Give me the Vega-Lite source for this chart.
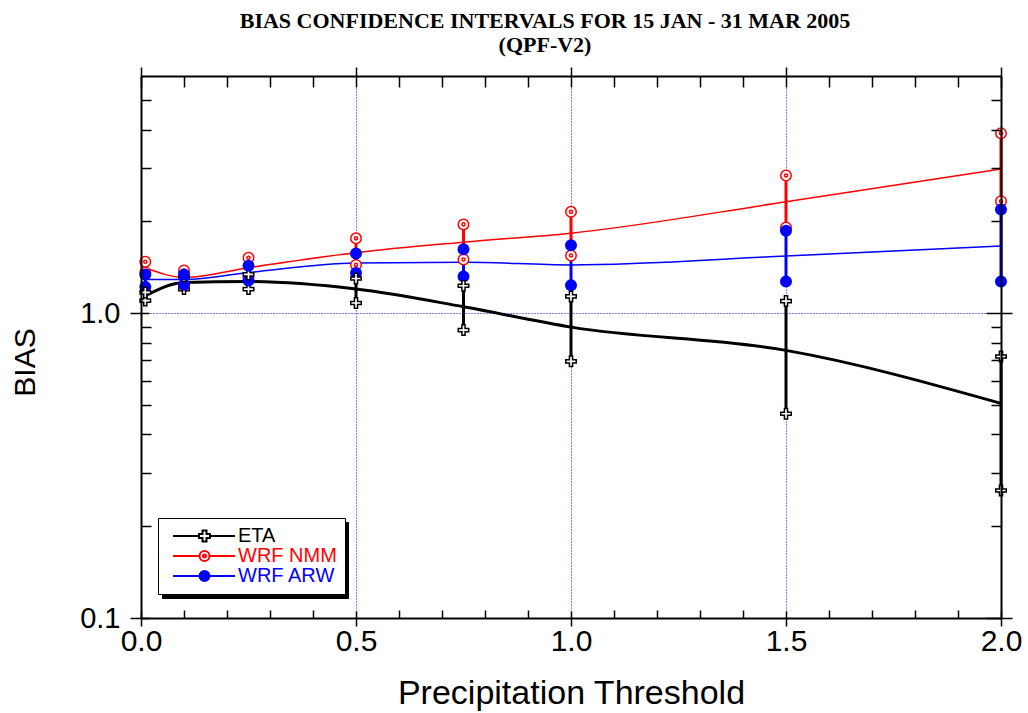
{
  "$schema": "https://vega.github.io/schema/vega-lite/v6.json",
  "width": 860,
  "height": 542,
  "autosize": {"type": "none"},
  "padding": {"left": 141, "top": 76, "right": 27, "bottom": 95},
  "background": "#ffffff",
  "title": {
    "text": ["BIAS CONFIDENCE INTERVALS FOR 15 JAN - 31 MAR 2005", "(QPF-V2)"],
    "font": "Liberation Serif",
    "fontSize": 22,
    "fontWeight": "bold",
    "color": "#000000",
    "anchor": "middle",
    "frame": "group",
    "dx": -26,
    "offset": 9,
    "lineHeight": 24
  },
  "data": {
    "values": [
      {"model": "ETA", "threshold": 0.01, "bias": 1.14, "lower": 1.10, "upper": 1.17},
      {"model": "ETA", "threshold": 0.1, "bias": 1.26, "lower": 1.20, "upper": 1.32},
      {"model": "ETA", "threshold": 0.25, "bias": 1.27, "lower": 1.20, "upper": 1.34},
      {"model": "ETA", "threshold": 0.5, "bias": 1.20, "lower": 1.08, "upper": 1.30},
      {"model": "ETA", "threshold": 0.75, "bias": 1.05, "lower": 0.88, "upper": 1.23},
      {"model": "ETA", "threshold": 1.0, "bias": 0.90, "lower": 0.695, "upper": 1.135},
      {"model": "ETA", "threshold": 1.5, "bias": 0.755, "lower": 0.468, "upper": 1.096},
      {"model": "ETA", "threshold": 2.0, "bias": 0.506, "lower": 0.262, "upper": 0.721},
      {"model": "WRF NMM", "threshold": 0.01, "bias": 1.41, "lower": 1.36, "upper": 1.475},
      {"model": "WRF NMM", "threshold": 0.1, "bias": 1.31, "lower": 1.24, "upper": 1.38},
      {"model": "WRF NMM", "threshold": 0.25, "bias": 1.41, "lower": 1.31, "upper": 1.52},
      {"model": "WRF NMM", "threshold": 0.5, "bias": 1.58, "lower": 1.44, "upper": 1.76},
      {"model": "WRF NMM", "threshold": 0.75, "bias": 1.71, "lower": 1.50, "upper": 1.955},
      {"model": "WRF NMM", "threshold": 1.0, "bias": 1.83, "lower": 1.546, "upper": 2.15},
      {"model": "WRF NMM", "threshold": 1.5, "bias": 2.32, "lower": 1.91, "upper": 2.83},
      {"model": "WRF NMM", "threshold": 2.0, "bias": 2.97, "lower": 2.33, "upper": 3.89},
      {"model": "WRF ARW", "threshold": 0.01, "bias": 1.29, "lower": 1.22, "upper": 1.34},
      {"model": "WRF ARW", "threshold": 0.1, "bias": 1.29, "lower": 1.24, "upper": 1.34},
      {"model": "WRF ARW", "threshold": 0.25, "bias": 1.36, "lower": 1.28, "upper": 1.43},
      {"model": "WRF ARW", "threshold": 0.5, "bias": 1.46, "lower": 1.355, "upper": 1.57},
      {"model": "WRF ARW", "threshold": 0.75, "bias": 1.47, "lower": 1.32, "upper": 1.62},
      {"model": "WRF ARW", "threshold": 1.0, "bias": 1.44, "lower": 1.235, "upper": 1.67},
      {"model": "WRF ARW", "threshold": 1.5, "bias": 1.54, "lower": 1.27, "upper": 1.865},
      {"model": "WRF ARW", "threshold": 2.0, "bias": 1.66, "lower": 1.27, "upper": 2.19}
    ]
  },
  "encoding": {
    "stroke": {
      "field": "model",
      "type": "nominal",
      "scale": {"domain": ["ETA", "WRF NMM", "WRF ARW"], "range": ["#000000", "#ff0000", "#0000ff"]},
      "legend": {
        "title": null,
        "orient": "none",
        "legendX": 17,
        "legendY": 442,
        "zindex": 2,
        "direction": "vertical",
        "padding": 8,
        "rowPadding": 0,
        "fillColor": "#ffffff",
        "strokeColor": "#000000",
        "labelFont": "Liberation Sans",
        "labelFontSize": 20,
        "labelOffset": 52,
        "symbolSize": 100,
        "symbolStrokeWidth": 2,
        "encoding": {
          "symbols": {
            "shape": {
              "condition": [
                {"test": "datum.value === 'ETA'", "value": "M-0.6,0H4.6M6.8,0H11.8M4.6,-0.4H5.3V-1.1H6.1V-0.4H6.8V0.4H6.1V1.1H5.3V0.4H4.6Z"},
                {"test": "datum.value === 'WRF NMM'", "value": "M-0.6,0H4.7M6.7,0H11.8M6.7,0A1,1,0,1,1,4.7,0A1,1,0,1,1,6.7,0ZM6,0A0.3,0.3,0,1,1,5.4,0A0.3,0.3,0,1,1,6,0Z"}
              ],
              "value": "M-0.6,0H11.8M6.7,0A1,1,0,1,1,4.7,0A1,1,0,1,1,6.7,0Z"
            },
            "fill": {
              "condition": [{"test": "datum.value === 'WRF ARW'", "value": "#0000ff"}],
              "value": "#ffffff"
            },
            "strokeWidth": {"value": 2},
            "opacity": {"value": 1}
          },
          "labels": {
            "fill": {
              "condition": [
                {"test": "datum.value === 'WRF NMM'", "value": "#ff0000"},
                {"test": "datum.value === 'WRF ARW'", "value": "#0000ff"}
              ],
              "value": "#000000"
            }
          }
        }
      }
    }
  },
  "layer": [
    {
      "mark": {"type": "line", "interpolate": "monotone"},
      "encoding": {
        "x": {
          "field": "threshold", "type": "quantitative",
          "scale": {"domain": [0, 2], "nice": false, "zero": false},
          "axis": {"orient": "bottom", "values": [0.1, 0.2, 0.3, 0.4, 0.6, 0.7, 0.8, 0.9, 1.1, 1.2, 1.3, 1.4, 1.6, 1.7, 1.8, 1.9], "tickSize": -8, "labels": false, "title": null, "domain": true, "grid": false, "zindex": 1}
        },
        "y": {
          "field": "bias", "type": "quantitative",
          "scale": {"type": "log", "domain": [0.1, 6], "nice": false},
          "axis": {"orient": "left", "values": [0.2, 0.3, 0.4, 0.5, 0.6, 0.7, 0.8, 0.9, 2, 3, 4, 5], "tickSize": -10, "labels": false, "title": null, "domain": true, "grid": false, "zindex": 1}
        },
        "strokeWidth": {
          "field": "model", "type": "nominal",
          "scale": {"type": "ordinal", "domain": ["WRF ARW", "WRF NMM", "ETA"], "range": [1.5, 1.5, 3]},
          "legend": null
        }
      }
    },
    {
      "mark": {"type": "rule", "strokeWidth": 3},
      "encoding": {
        "x": {
          "field": "threshold", "type": "quantitative",
          "axis": {"orient": "bottom", "values": [0, 0.5, 1, 1.5, 2], "format": ".1f", "offset": -7, "tickSize": 15, "labelPadding": 0, "labelFlush": false, "labelOverlap": false, "labelFontSize": 30, "title": "Precipitation Threshold", "titleFontSize": 34, "titlePadding": 20, "domain": false, "grid": true, "gridColor": "#0000ff", "gridDash": [1, 2], "gridWidth": 1, "gridOpacity": 1}
        },
        "y": {
          "field": "lower", "type": "quantitative",
          "axis": {"orient": "left", "values": [0.1, 1], "format": ".1f", "offset": -8, "tickSize": 19, "labelPadding": 10, "labelFlush": false, "labelOverlap": false, "labelFontSize": 29, "title": "BIAS", "titleFontSize": 30, "titlePadding": 39, "titleY": 286, "domain": false, "grid": true, "gridColor": "#0000ff", "gridDash": [1, 2], "gridWidth": 1, "gridOpacity": 1}
        },
        "y2": {"field": "upper"},
        "strokeDash": {
          "field": "model", "type": "nominal",
          "scale": {"domain": ["WRF NMM", "ETA", "WRF ARW"], "range": [[1, 0], [1, 0], [1, 0]]},
          "legend": {
            "title": null,
            "orient": "none",
            "legendX": 21,
            "legendY": 446,
            "zindex": 1,
            "direction": "vertical",
            "padding": 8,
            "rowPadding": 0,
            "fillColor": "#000000",
            "strokeColor": "#000000",
            "labelFont": "Liberation Sans",
            "labelFontSize": 20,
            "labelOffset": 0,
            "labelExpr": "''",
            "symbolSize": 100,
            "symbolStrokeWidth": 0,
            "encoding": {
              "symbols": {
                "shape": {"value": "M-0.6,-2H32H32V2H-0.6Z"},
                "opacity": {"value": 0}
              }
            }
          }
        }
      }
    },
    {
      "mark": {"type": "point", "opacity": 1, "size": 110, "strokeWidth": 1.5},
      "encoding": {
        "x": {
          "field": "threshold", "type": "quantitative",
          "axis": {"orient": "top", "values": [0, 0.5, 1, 1.5, 2], "offset": -11, "tickSize": 20, "labels": false, "title": null, "domain": false, "grid": false}
        },
        "y": {
          "field": "lower", "type": "quantitative",
          "axis": {"orient": "right", "values": [0.1, 1], "offset": -15, "tickSize": 26, "labels": false, "title": null, "domain": false, "grid": false}
        },
        "fill": {
          "field": "model", "type": "nominal",
          "scale": {"domain": ["WRF ARW", "WRF NMM", "ETA"], "range": ["#0000ff", "#ffffff", "#ffffff"]},
          "legend": null
        },
        "shape": {
          "field": "model", "type": "nominal",
          "scale": {"domain": ["WRF ARW", "WRF NMM", "ETA"], "range": ["circle", "M1,0A1,1,0,1,1,-1,0A1,1,0,1,1,1,0ZM0.3,0A0.3,0.3,0,1,1,-0.3,0A0.3,0.3,0,1,1,0.3,0Z", "M-1,-0.3H-0.3V-1H0.3V-0.3H1V0.3H0.3V1H-0.3V0.3H-1Z"]},
          "legend": null
        }
      }
    },
    {
      "mark": {"type": "point", "opacity": 1, "size": 110, "strokeWidth": 1.5},
      "encoding": {
        "x": {
          "field": "threshold", "type": "quantitative",
          "axis": {"orient": "top", "values": [0.1, 0.2, 0.3, 0.4, 0.6, 0.7, 0.8, 0.9, 1.1, 1.2, 1.3, 1.4, 1.6, 1.7, 1.8, 1.9], "tickSize": -11, "labels": false, "title": null, "domain": true, "grid": false, "zindex": 1}
        },
        "y": {
          "field": "upper", "type": "quantitative",
          "axis": {"orient": "right", "values": [0.2, 0.3, 0.4, 0.5, 0.6, 0.7, 0.8, 0.9, 2, 3, 4, 5], "tickSize": -10, "labels": false, "title": null, "domain": true, "grid": false, "zindex": 1}
        },
        "fill": {
          "field": "model", "type": "nominal",
          "scale": {"domain": ["WRF ARW", "WRF NMM", "ETA"], "range": ["#0000ff", "#ffffff", "#ffffff"]},
          "legend": null
        },
        "shape": {
          "field": "model", "type": "nominal",
          "scale": {"domain": ["WRF ARW", "WRF NMM", "ETA"], "range": ["circle", "M1,0A1,1,0,1,1,-1,0A1,1,0,1,1,1,0ZM0.3,0A0.3,0.3,0,1,1,-0.3,0A0.3,0.3,0,1,1,0.3,0Z", "M-1,-0.3H-0.3V-1H0.3V-0.3H1V0.3H0.3V1H-0.3V0.3H-1Z"]},
          "legend": null
        }
      }
    }
  ],
  "resolve": {"axis": {"x": "independent", "y": "independent"}},
  "config": {
    "view": {"stroke": null},
    "axis": {
      "domainColor": "#000000",
      "domainWidth": 2,
      "tickColor": "#000000",
      "tickWidth": 1.5,
      "labelFont": "Liberation Sans",
      "labelColor": "#000000",
      "titleFont": "Liberation Sans",
      "titleColor": "#000000",
      "titleFontWeight": "normal"
    }
  }
}
